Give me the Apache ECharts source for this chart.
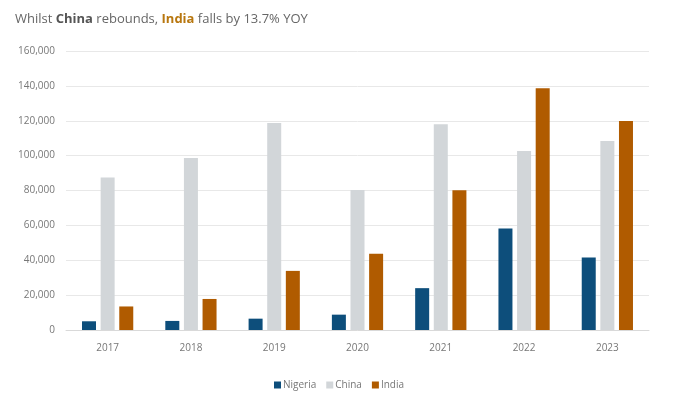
<!DOCTYPE html>
<html><head><meta charset="utf-8">
<script src="https://cdn.jsdelivr.net/npm/echarts@6/dist/echarts.min.js"></script>
<style>html,body{margin:0;padding:0;background:#fff}#c{width:678px;height:404px}</style>
</head><body><div id="c"></div>
<script>
const categories = ['2017','2018','2019','2020','2021','2022','2023'];
const nigeria = [5000, 5200, 6500, 8800, 24000, 58200, 41600];
const china = [87500, 98600, 118700, 80300, 118000, 102700, 108400];
const india = [13500, 17800, 33900, 43700, 80100, 138700, 119800];
const yTicks = [0, 20000, 40000, 60000, 80000, 100000, 120000, 140000, 160000];

const chart = echarts.init(document.getElementById('c'));
const font = '"Open Sans", sans-serif';
chart.setOption({
  animation: false,
  title: {
    text: 'Whilst {b|China} rebounds, {o|India} falls by 13.7% YOY',
    left: 10, top: 8,
    textStyle: {
      fontFamily: font, fontSize: 13, color: '#666', fontWeight: 'normal',
      rich: {
        b: {fontFamily: font, fontSize: 13, fontWeight: 'bold', color: '#555'},
        o: {fontFamily: font, fontSize: 13, fontWeight: 'bold', color: '#b8770f'}
      }
    }
  },
  legend: {
    bottom: 9, left: 'center', itemWidth: 7, itemHeight: 7, itemGap: 10,
    icon: 'rect',
    textStyle: {fontFamily: font, fontSize: 10, color: '#777', padding: [0,0,0,-3]},
    data: ['Nigeria','China','India']
  },
  grid: {left: 66, right: 29, top: 51, bottom: 74},
  xAxis: {
    type: 'category', data: categories,
    axisTick: {show: false},
    axisLine: {lineStyle: {color: '#d9d9d9'}},
    axisLabel: {fontFamily: font, fontSize: 10, color: '#777', margin: 13}
  },
  yAxis: {
    type: 'value', min: yTicks[0], max: yTicks[yTicks.length-1], interval: 20000,
    axisLine: {show: false}, axisTick: {show: false},
    splitLine: {lineStyle: {color: '#e8e8e8'}},
    axisLabel: {fontFamily: font, fontSize: 10, color: '#777', margin: 11,
      formatter: v => v.toLocaleString('en-US')}
  },
  series: [
    {name: 'Nigeria', type: 'bar', data: nigeria, barWidth: 14, barGap: '33%', itemStyle: {color: '#0d4e7b'}},
    {name: 'China', type: 'bar', data: china, barWidth: 14, barGap: '33%', itemStyle: {color: '#d2d6d9'}},
    {name: 'India', type: 'bar', data: india, barWidth: 14, barGap: '33%', itemStyle: {color: '#b05b00'}}
  ]
});
</script></body></html>
